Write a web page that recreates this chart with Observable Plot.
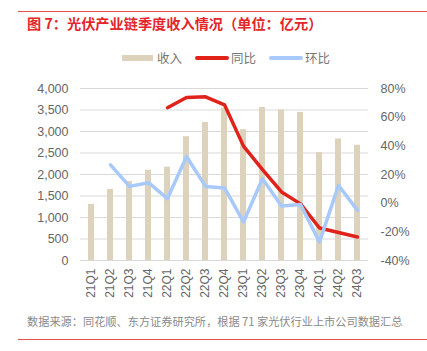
<!DOCTYPE html>
<html>
<head>
<meta charset="utf-8">
<script src="https://cdn.jsdelivr.net/npm/d3@7"></script>
<script src="https://cdn.jsdelivr.net/npm/@observablehq/plot@0.6"></script>
<style>
  body { margin: 0; background: #fff; }
  #wrap { position: relative; width: 427px; height: 351px; overflow: hidden; font-family: "Liberation Sans", "Noto Sans CJK SC", sans-serif; }
  .rule { position: absolute; left: 18px; right: 0; height: 1px; background: #e8504a; }
  #title { position: absolute; left: 27px; top: 14px; font: bold 14.2px "Noto Sans CJK SC", sans-serif; color: #e3262a; white-space: nowrap; line-height: 18px; }
  #legend { position: absolute; left: 0; top: 49px; width: 427px; height: 18px; font: 12.5px "Noto Sans CJK SC", sans-serif; color: #777; }
  .lg { position: absolute; top: 0; line-height: 18px; }
  .sw { position: absolute; }
  #source { position: absolute; left: 27px; top: 313px; font: 11.2px "Noto Sans CJK SC", sans-serif; color: #8a8a8a; white-space: nowrap; line-height: 16px; }
  #chart { position: absolute; left: 0; top: 70px; }
</style>
</head>
<body>
<div id="wrap">
  <div class="rule" style="top:11px"></div>
  <div id="title">图 7：光伏产业链季度收入情况（单位：亿元）</div>
  <div id="legend">
    <div class="sw" style="left:122px; top:6px; width:31px; height:6px; background:#ddd3bd"></div>
    <div class="lg" style="left:157px">收入</div>
    <div class="sw" style="left:195px; top:7px; width:34px; height:4px; border-radius:2px; background:#e0221b"></div>
    <div class="lg" style="left:231px">同比</div>
    <div class="sw" style="left:269px; top:7px; width:34px; height:4px; border-radius:2px; background:#a8c9fb"></div>
    <div class="lg" style="left:305px">环比</div>
  </div>
  <div id="chart"></div>
  <div id="source">数据来源：同花顺、东方证券研究所，根据 71 家光伏行业上市公司数据汇总</div>
  <div class="rule" style="top:339px"></div>
</div>
<script>
const quarters = ["21Q1","21Q2","21Q3","21Q4","22Q1","22Q2","22Q3","22Q4","23Q1","23Q2","23Q3","23Q4","24Q1","24Q2","24Q3"].slice(0, 15);
const revenue = [1305, 1652, 1838, 2100, 2170, 2880, 3210, 3545, 3043, 3560, 3500, 3444, 2510, 2827, 2680];
const yoy = [null, null, null, null, 66.6, 73.7, 74.2, 68.6, 39.8, 23.4, 7.8, -0.5, -17.3, -20.5, -23.6];
const qoq = [null, 26.7, 11.7, 14.3, 3.2, 32.6, 11.7, 10.6, -13.1, 17.1, -2.0, -1.0, -27.0, 12.4, -5.0];
const leftTicks = [0, 500, 1000, 1500, 2000, 2500, 3000, 3500, 4000];
const rightTicks = [-40, -20, 0, 20, 40, 60, 80];

// map percent (-40..80) onto the revenue scale (0..4000)
const toLeft = p => (p + 40) * 4000 / 120;

const rows = quarters.map((q, i) => ({q, rev: revenue[i], yoy: yoy[i], qoq: qoq[i]}));
const yoyRows = rows.filter(d => d.yoy != null);
const qoqRows = rows.filter(d => d.qoq != null);

const textColor = "#666";
const chart = Plot.plot({
  width: 427,
  height: 240,
  marginTop: 18,
  marginBottom: 50,
  marginLeft: 80,
  marginRight: 59,
  style: {fontFamily: "'Liberation Sans', Arial, sans-serif", fontSize: "12px", color: textColor, background: "transparent"},
  x: {type: "band", domain: quarters, paddingInner: 0.7, paddingOuter: 0.35},
  y: {domain: [0, 4000]},
  marks: [
    Plot.gridY(leftTicks, {stroke: "#d9d9d9", strokeOpacity: 1, strokeWidth: 1}),
    Plot.barY(rows, {x: "q", y: "rev", fill: "#ddd3bd"}),
    Plot.line(yoyRows, {x: "q", y: d => toLeft(d.yoy), stroke: "#e0221b", strokeWidth: 3.5, curve: "linear"}),
    Plot.line(qoqRows, {x: "q", y: d => toLeft(d.qoq), stroke: "#a8c9fb", strokeWidth: 3.5, curve: "linear"}),
    Plot.axisY(leftTicks, {anchor: "left", tickSize: 0, tickPadding: 12, tickFormat: d => d3.format(",")(d), fontSize: 12.5, label: null}),
    Plot.axisY(rightTicks.map(toLeft), {anchor: "right", tickSize: 0, tickPadding: 12, tickFormat: d => Math.round(d * 120 / 4000 - 40) + "%", fontSize: 12.5, label: null}),
    Plot.axisX({tickSize: 0, tickPadding: 8, tickRotate: -90, fontSize: 12, label: null})
  ]
});
document.getElementById("chart").appendChild(chart);
</script>
</body>
</html>
